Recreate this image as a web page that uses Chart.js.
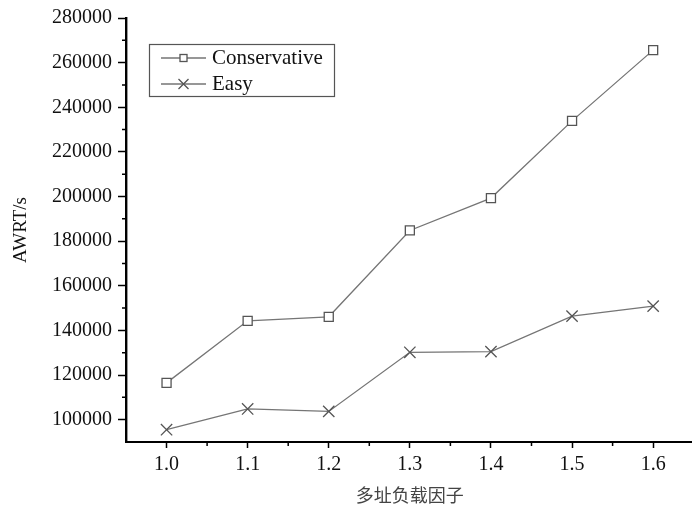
<!DOCTYPE html>
<html>
<head>
<meta charset="utf-8">
<script src="https://cdn.jsdelivr.net/npm/chart.js@4/dist/chart.umd.min.js"></script>
<style>
    html, body { margin: 0; padding: 0; background: #fff; overflow: hidden; }
    #wrap { width: 703px; height: 509px; }
</style>
</head>
<body>
<div id="wrap"><canvas id="awrtChart"></canvas></div>
<script>
// Chart data
const loadFactors = [1.0, 1.1, 1.2, 1.3, 1.4, 1.5, 1.6];
const conservative = [116500, 144300, 146100, 184800, 199300, 233900, 265600];
const easy = [95500, 104800, 103700, 130200, 130500, 146400, 150900];
const xTicks = [1.0, 1.1, 1.2, 1.3, 1.4, 1.5, 1.6];
const yTicks = [100000, 120000, 140000, 160000, 180000, 200000, 220000, 240000, 260000, 280000];

const serif = "'Liberation Serif', 'Times New Roman', serif";

// Small minor ticks halfway between the labelled ones
const minorTicks = {
    id: 'minorTicks',
    afterDraw(chart) {
        const ctx = chart.ctx;
        const xs = chart.scales.x;
        const ys = chart.scales.y;
        ctx.save();
        ctx.strokeStyle = '#000';
        ctx.lineWidth = 1.5;
        ctx.beginPath();
        for (let i = 0; i < xTicks.length - 1; i++) {
            const px = xs.getPixelForValue((xTicks[i] + xTicks[i + 1]) / 2);
            ctx.moveTo(px, ys.bottom);
            ctx.lineTo(px, ys.bottom + 4);
        }
        for (let i = 0; i < yTicks.length - 1; i++) {
            const py = ys.getPixelForValue((yTicks[i] + yTicks[i + 1]) / 2);
            ctx.moveTo(xs.left, py);
            ctx.lineTo(xs.left - 4, py);
        }
        ctx.stroke();
        ctx.restore();
    }
};

// Boxed legend with a line through each marker
const boxLegend = {
    id: 'boxLegend',
    afterDraw(chart, args, opts) {
        const ctx = chart.ctx;
        ctx.save();
        ctx.strokeStyle = '#555';
        ctx.lineWidth = 1.2;
        ctx.strokeRect(opts.x + 0.5, opts.y + 0.5, opts.w, opts.h);
        chart.data.datasets.forEach((ds, i) => {
            const cy = opts.y + opts.rowTop + i * opts.rowGap;
            const x0 = opts.x + 12;
            const x1 = x0 + 45;
            const cx = (x0 + x1) / 2;
            ctx.strokeStyle = ds.borderColor;
            ctx.lineWidth = 1.3;
            ctx.beginPath();
            ctx.moveTo(x0, cy);
            ctx.lineTo(x1, cy);
            ctx.stroke();
            ctx.strokeStyle = ds.pointBorderColor;
            if (ds.pointStyle === 'rect') {
                ctx.fillStyle = '#fff';
                ctx.fillRect(cx - 3.5, cy - 3.5, 7, 7);
                ctx.strokeRect(cx - 3.5, cy - 3.5, 7, 7);
            } else {
                ctx.beginPath();
                ctx.moveTo(cx - 5, cy - 5); ctx.lineTo(cx + 5, cy + 5);
                ctx.moveTo(cx - 5, cy + 5); ctx.lineTo(cx + 5, cy - 5);
                ctx.stroke();
            }
            ctx.fillStyle = '#111';
            ctx.font = '21px ' + serif;
            ctx.textBaseline = 'middle';
            ctx.fillText(ds.label, x1 + 6, cy);
        });
        ctx.restore();
    }
};

const ctx = document.getElementById('awrtChart').getContext('2d');

new Chart(ctx, {
    type: 'line',
    data: {
        datasets: [{
            label: 'Conservative',
            data: loadFactors.map((x, i) => ({ x: x, y: conservative[i] })),
            borderColor: '#757575',
            borderWidth: 1.3,
            pointStyle: 'rect',
            pointRadius: 6.4,
            pointBackgroundColor: '#fff',
            pointBorderColor: '#555',
            pointBorderWidth: 1.3,
            tension: 0
        }, {
            label: 'Easy',
            data: loadFactors.map((x, i) => ({ x: x, y: easy[i] })),
            borderColor: '#757575',
            borderWidth: 1.3,
            pointStyle: 'crossRot',
            pointRadius: 8,
            pointBorderColor: '#555',
            pointBorderWidth: 1.3,
            tension: 0
        }]
    },
    options: {
        responsive: true,
        maintainAspectRatio: false,
        animation: false,
        events: [],
        layout: { padding: { top: 18, left: 0, right: 0, bottom: 0 } },
        plugins: {
            legend: { display: false },
            tooltip: { enabled: false },
            boxLegend: { x: 149, y: 44, w: 185, h: 52, rowTop: 14, rowGap: 26 }
        },
        scales: {
            x: {
                type: 'linear',
                min: 0.95,
                max: 1.65,
                afterBuildTicks: scale => { scale.ticks = xTicks.map(v => ({ value: v })); },
                afterFit: scale => { scale.height = 67; },
                ticks: {
                    callback: v => v.toFixed(1),
                    font: { family: serif, size: 20 },
                    color: '#111',
                    padding: 5,
                    maxRotation: 0
                },
                grid: { drawOnChartArea: false, tickLength: 6, tickColor: '#000', tickWidth: 1.5 },
                border: { color: '#000', width: 2 },
                title: {
                    display: true,
                    text: '多址负载因子',
                    font: { family: "'Noto Sans CJK SC', sans-serif", size: 18 },
                    color: '#444',
                    padding: { top: 0, bottom: 3 }
                }
            },
            y: {
                min: 90000,
                max: 280000,
                afterBuildTicks: scale => { scale.ticks = yTicks.map(v => ({ value: v })); },
                afterFit: scale => { scale.width = 126; },
                ticks: {
                    callback: v => String(v),
                    font: { family: serif, size: 20 },
                    color: '#111',
                    padding: 6
                },
                grid: { drawOnChartArea: false, tickLength: 8, tickColor: '#000', tickWidth: 1.5 },
                border: { color: '#000', width: 2.4 },
                title: {
                    display: true,
                    text: 'AWRT/s',
                    font: { family: serif, size: 19 },
                    color: '#111',
                    padding: { top: 10, bottom: 0 }
                }
            }
        }
    },
    plugins: [minorTicks, boxLegend]
});
</script>
</body>
</html>
